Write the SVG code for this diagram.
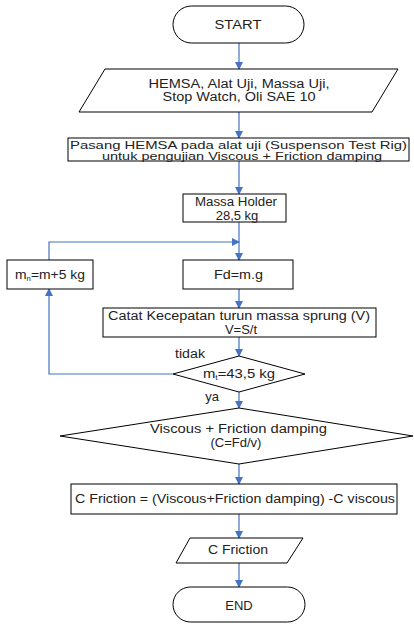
<svg xmlns="http://www.w3.org/2000/svg" width="414" height="624" viewBox="0 0 414 624">
<style>
.s{fill:#fff;stroke:#000;stroke-width:1}
.t{font-family:"Liberation Sans",Arial,sans-serif;font-size:12.5px;fill:#222;text-anchor:middle}
.p{font-size:11.5px}
.b{font-size:13px}
.c{fill:none;stroke:#4472C4;stroke-width:1.2}
</style>
<defs>
<marker id="a" markerWidth="8" markerHeight="8" refX="7" refY="4" orient="auto" markerUnits="userSpaceOnUse">
<path d="M0,0 L8,4 L0,8 z" fill="#4472C4"/>
</marker>
</defs>
<rect width="414" height="624" fill="#fff"/>
<g id="connectors">
<path class="c" d="M239,43 V69" marker-end="url(#a)"/>
<path class="c" d="M239,112 V138" marker-end="url(#a)"/>
<path class="c" d="M239,161 V194" marker-end="url(#a)"/>
<path class="c" d="M239,222 V260" marker-end="url(#a)"/>
<path class="c" d="M49,260 V242 H239" marker-end="url(#a)"/>
<path class="c" d="M239,289 V308" marker-end="url(#a)"/>
<path class="c" d="M239,337 V356" marker-end="url(#a)"/>
<path class="c" d="M173,374 H49 V289" marker-end="url(#a)"/>
<path class="c" d="M239,392 V408" marker-end="url(#a)"/>
<path class="c" d="M239,464 V484" marker-end="url(#a)"/>
<path class="c" d="M239,514 V538" marker-end="url(#a)"/>
<path class="c" d="M239,563 V587" marker-end="url(#a)"/>
<text class="t" x="190" y="358" textLength="30" lengthAdjust="spacingAndGlyphs">tidak</text>
<text class="t b" x="212" y="401">ya</text>
</g>
<g id="start">
<rect class="s" x="173" y="6" width="131" height="37" rx="18.5"/>
<text class="t" x="238" y="29" textLength="47" lengthAdjust="spacingAndGlyphs">START</text>
</g>
<g id="input">
<path class="s" d="M105,69 H398 L372,112 H79 Z"/>
<text class="t" x="239" y="88" textLength="181" lengthAdjust="spacingAndGlyphs">HEMSA, Alat Uji, Massa Uji,</text>
<text class="t" x="239" y="101" textLength="153" lengthAdjust="spacingAndGlyphs">Stop Watch, Oli SAE 10</text>
</g>
<g id="pasang">
<rect class="s" x="68" y="138" width="341" height="23"/>
<text class="t p" x="238.5" y="148.5" textLength="337" lengthAdjust="spacingAndGlyphs">Pasang HEMSA pada alat uji (Suspenson Test Rig)</text>
<text class="t p" x="242" y="159.5" textLength="280" lengthAdjust="spacingAndGlyphs">untuk pengujian Viscous + Friction damping</text>
</g>
<g id="holder">
<rect class="s" x="183" y="194" width="103" height="28"/>
<text class="t" x="236" y="206" textLength="82" lengthAdjust="spacingAndGlyphs">Massa Holder</text>
<text class="t b" x="237" y="219.5">28,5 kg</text>
</g>
<g id="mn">
<rect class="s" x="7" y="260" width="86" height="29"/>
<text class="t" x="50" y="279" textLength="70" lengthAdjust="spacingAndGlyphs">m<tspan font-size="7" dy="2">n</tspan><tspan dy="-2">=m+5 kg</tspan></text>
</g>
<g id="fd">
<rect class="s" x="183" y="260" width="110" height="29"/>
<text class="t" x="238.5" y="279" textLength="49" lengthAdjust="spacingAndGlyphs">Fd=m.g</text>
</g>
<g id="catat">
<rect class="s" x="103" y="308" width="273" height="29"/>
<text class="t" x="239" y="320" textLength="262" lengthAdjust="spacingAndGlyphs">Catat Kecepatan turun massa sprung (V)</text>
<text class="t b" x="241" y="333.5">V=S/t</text>
</g>
<g id="cek">
<path class="s" d="M239,356 L305,374 L239,392 L173,374 Z"/>
<text class="t" x="239" y="378" textLength="72" lengthAdjust="spacingAndGlyphs">m<tspan font-size="7" dy="2">t</tspan><tspan dy="-2">=43,5 kg</tspan></text>
</g>
<g id="viscous">
<path class="s" d="M239,408 L413,436 L239,464 L60,436 Z"/>
<text class="t" x="238.5" y="432.5" textLength="177" lengthAdjust="spacingAndGlyphs">Viscous + Friction damping</text>
<text class="t b" x="236" y="447">(C=Fd/v)</text>
</g>
<g id="cfriction">
<rect class="s" x="71" y="484" width="326" height="30"/>
<text class="t" x="235" y="503" textLength="320" lengthAdjust="spacingAndGlyphs">C Friction = (Viscous+Friction damping) -C viscous</text>
</g>
<g id="output">
<path class="s" d="M190,538 H303 L287,563 H176 Z"/>
<text class="t" x="238" y="554" textLength="60" lengthAdjust="spacingAndGlyphs">C Friction</text>
</g>
<g id="end">
<rect class="s" x="173" y="587" width="132" height="35" rx="17.5"/>
<text class="t b" x="239" y="609.5">END</text>
</g>
</svg>
